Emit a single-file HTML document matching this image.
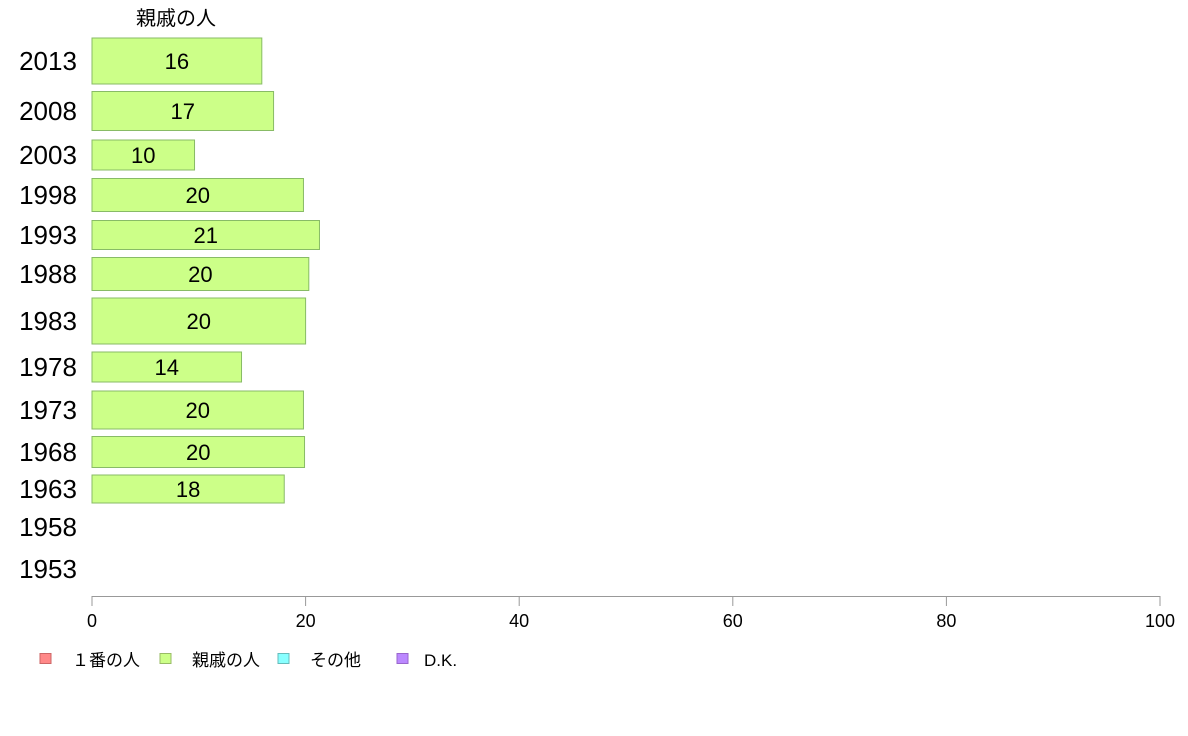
<!DOCTYPE html>
<html><head><meta charset="utf-8"><style>
body{margin:0;background:#fff;}
svg{display:block;font-family:"Liberation Sans","Noto Sans CJK JP",sans-serif;}
</style></head><body>
<svg id="chart" width="1188" height="736" xmlns="http://www.w3.org/2000/svg">
<text x="176" y="25" font-size="20" text-anchor="middle">親戚の人</text>
<g id="bars"></g><g id="axis"></g><g id="legend"></g>
</svg>
<script>
const years = ["2013","2008","2003","1998","1993","1988","1983","1978","1973","1968","1963","1958","1953"];
const values = [15.9,17.0,9.6,19.8,21.3,20.3,20.0,14.0,19.8,19.9,18.0,null,null];
const labels = ["16","17","10","20","21","20","20","14","20","20","18","",""];
const ticks = [0,20,40,60,80,100];
const legendNames = ["１番の人","親戚の人","その他","D.K."];
const legendColors = ["#ff8888","#ccff88","#88ffff","#bb88ff"];
const legendStroke = ["#cc6666","#99bb66","#66bbbb","#9966cc"];
const yCenters = [61,111,155,195,235,274,321,367,410,452,489,527,569];
const barHeights = [46,39,30,33,29,33,46,30,38,31,28,0,0];
const NS="http://www.w3.org/2000/svg";
const x = v => 92 + v*10.68;
function mk(t,a,p){const e=document.createElementNS(NS,t);for(const k in a)e.setAttribute(k,a[k]);p.appendChild(e);return e;}
const bars=document.getElementById('bars');
years.forEach((yr,i)=>{
  const yl=mk('text',{x:48,y:yCenters[i]+9,'font-size':26,'text-anchor':'middle'},bars);
  yl.textContent=yr;
  
  
  if(values[i]==null)return;
  const h=barHeights[i];
  const r=mk('rect',{x:x(0),y:yCenters[i]-h/2,width:x(values[i])-x(0),height:h,fill:'#ccff88',stroke:'#88bb66','stroke-width':1},bars);
  
  
  const t=mk('text',{x:(x(0)+x(values[i]))/2,y:yCenters[i]+8,'font-size':22,'text-anchor':'middle'},bars);
  t.textContent=labels[i];
  
  
});
const ax=document.getElementById('axis');
const al=mk('line',{x1:x(0),x2:x(100),y1:596.5,y2:596.5,stroke:'#999'},ax);


ticks.forEach(v=>{
  const tl=mk('line',{x1:x(v),x2:x(v),y1:596,y2:606,stroke:'#999'},ax);
  
  
  const tt=mk('text',{x:x(v),y:627,'font-size':18,'text-anchor':'middle'},ax);
  tt.textContent=v;
  
  
});
const lg=document.getElementById('legend');
const lx=[40,160,278,397];
legendNames.forEach((n,i)=>{
  const r=mk('rect',{x:lx[i],y:653.5,width:11,height:10,fill:legendColors[i],stroke:legendStroke[i]},lg);
  
  
  const t=mk('text',{x:lx[i]+(i==3?27:32),y:666,'font-size':17},lg);
  t.textContent=n;
  
  
});
</script>
</body></html>
